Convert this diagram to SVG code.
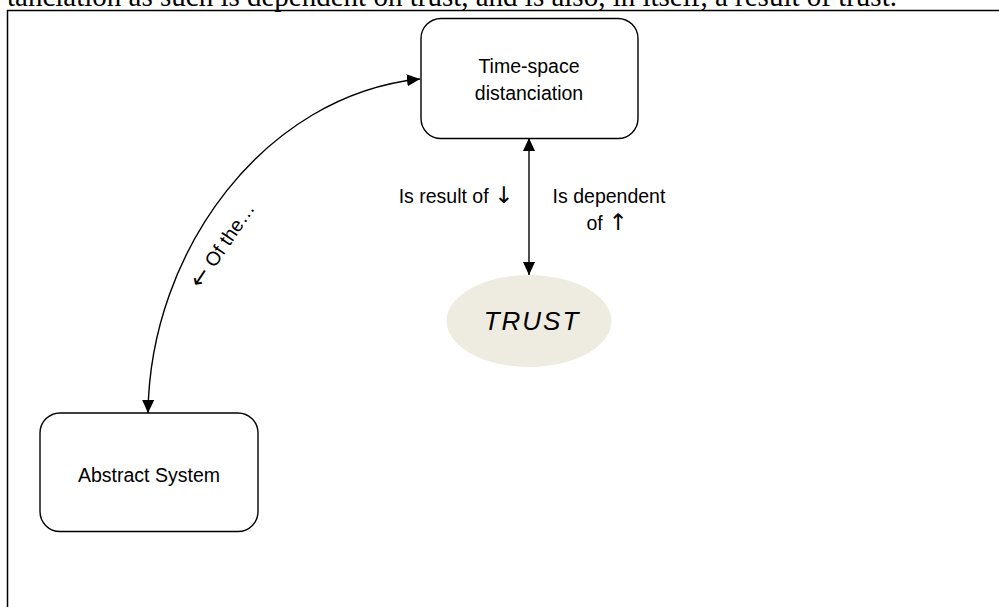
<svg xmlns="http://www.w3.org/2000/svg" width="999" height="607" viewBox="0 0 999 607">
<defs>
<style>
.node{fill:#fff;stroke:#000;stroke-width:1.4}
.lbl{font-family:"Liberation Sans",Arial,sans-serif;font-size:19.5px;fill:#000}
.arw{font-family:"DejaVu Sans",sans-serif;font-size:23px;fill:#000}
.conn{fill:none;stroke:#000;stroke-width:1.4}
</style>
<marker id="ah" viewBox="0 0 13 12" refX="13" refY="6" markerWidth="13" markerHeight="12" markerUnits="userSpaceOnUse" orient="auto-start-reverse">
<path d="M0,0 L13,6 L0,12 z" fill="#000"/>
</marker>
</defs>
<rect width="999" height="607" fill="#fff"/>
<text x="7" y="5.5" font-family="'Liberation Serif','Times New Roman',serif" font-size="29" fill="#000">tanciation as such is dependent on trust, and is also, in itself, a result of trust.</text>
<rect x="7.5" y="10.5" width="1000" height="700" fill="none" stroke="#000" stroke-width="1.5"/>
<g id="connectors">
<path class="conn" d="M529,138 L529,275" marker-start="url(#ah)" marker-end="url(#ah)"/>
<path class="conn" d="M148,413 C150,250 265,95 420,79" marker-start="url(#ah)" marker-end="url(#ah)"/>
<text class="lbl" x="456" y="203" text-anchor="middle">Is result of <tspan class="arw">↓</tspan></text>
<text class="lbl" x="609" y="203" text-anchor="middle">Is dependent</text>
<text class="lbl" x="607" y="230" text-anchor="middle">of <tspan class="arw">↑</tspan></text>
<text class="lbl" x="228" y="249" text-anchor="middle" transform="rotate(-56 228 249)"><tspan class="arw">←</tspan><tspan dx="6">Of the…</tspan></text>
</g>
<g id="time-space">
<rect class="node" x="421" y="18.5" width="217" height="120" rx="20"/>
<text class="lbl" x="529" y="73" text-anchor="middle">Time-space</text>
<text class="lbl" x="529" y="100" text-anchor="middle">distanciation</text>
</g>
<g id="trust">
<ellipse cx="529" cy="321" rx="82.5" ry="46" fill="#EEECE1"/>
<text x="532" y="329.5" text-anchor="middle" font-family="'Liberation Sans',Arial,sans-serif" font-size="26" font-style="italic" letter-spacing="2" fill="#000">TRUST</text>
</g>
<g id="abstract-system">
<rect class="node" x="40" y="413" width="218" height="118.5" rx="20"/>
<text class="lbl" x="149" y="482" text-anchor="middle">Abstract System</text>
</g>
</svg>
